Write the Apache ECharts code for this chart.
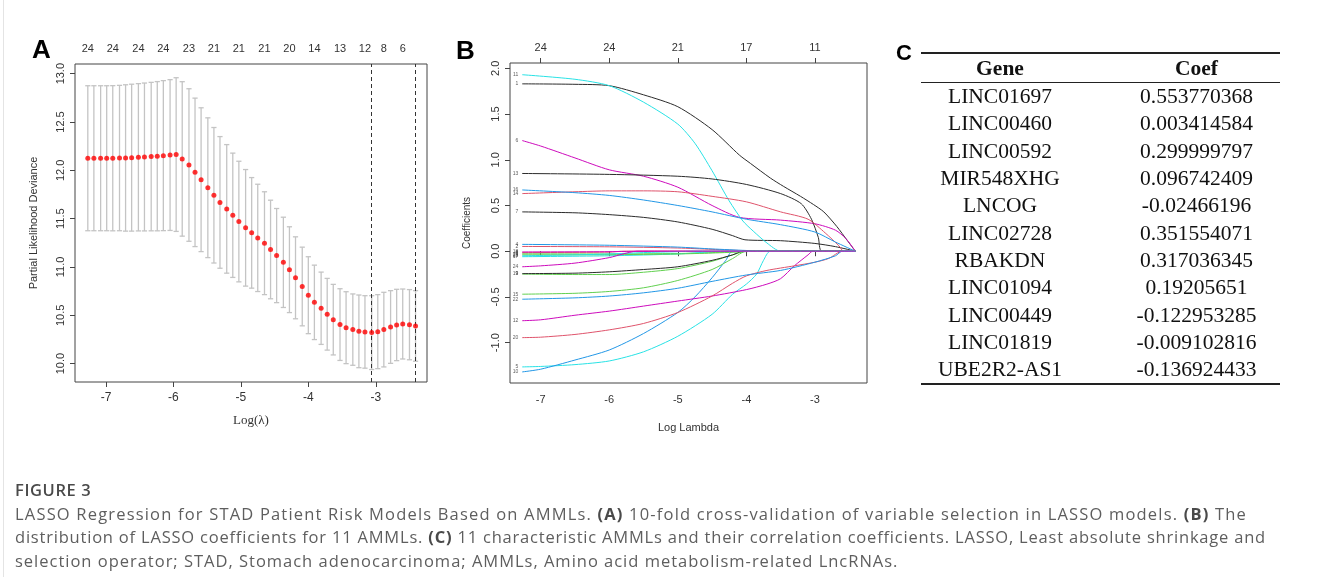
<!DOCTYPE html>
<html>
<head>
<meta charset="utf-8">
<script src="https://cdn.jsdelivr.net/npm/echarts@6/dist/echarts.min.js"></script>
<style>
  body { margin: 0; background: #fff; }
  #wrap { position: relative; width: 1319px; height: 577px; overflow: hidden; }
  #chart { position: absolute; left: 0; top: 0; width: 1319px; height: 577px; }
  #frame { position: absolute; left: 3px; top: 0; width: 1px; height: 577px; background: #e4e4e4; }
  #tbl { position: absolute; left: 921px; top: 52px; width: 359px; border-collapse: collapse;
         font-family: "Liberation Serif", "Times New Roman", serif; font-size: 21.5px; color: #111; }
  #tbl th, #tbl td { padding: 0; text-align: center; line-height: 27px; height: 27.3px; }
  #tbl thead tr { border-top: 2px solid #222; border-bottom: 1.5px solid #222; }
  #tbl thead th { height: 28px; font-weight: bold; }
  #tbl tbody tr:last-child { border-bottom: 2px solid #222; }
  #tbl .c1 { width: 158px; }
  #tbl .c2 { padding-left: 34px; }
  #cap { position: absolute; left: 15px; top: 478px; font-family: "Open Sans", "Liberation Sans", sans-serif;
         font-size: 16.5px; color: #5e5e5e; line-height: 23.5px; white-space: nowrap; }
  #cap div { display: block; }
  #cap .fig { color: #4a4a4a; font-weight: 600; letter-spacing: 0.6px; }
  #cap b { font-weight: 700; color: #4a4a4a; }
</style>
</head>
<body>
<div id="wrap">
  <div id="frame"></div>
  <div id="chart"></div>
  <table id="tbl"></table>
  <div id="cap">
    <div class="fig">FIGURE 3</div>
    <div class="ln"><span>LASSO Regression for STAD Patient Risk Models Based on AMMLs. <b>(A)</b> 10-fold cross-validation of variable selection in LASSO models. <b>(B)</b> The</span></div>
    <div class="ln"><span>distribution of LASSO coefficients for 11 AMMLs. <b>(C)</b> 11 characteristic AMMLs and their correlation coefficients. LASSO, Least absolute shrinkage and</span></div>
    <div class="ln"><span>selection operator; STAD, Stomach adenocarcinoma; AMMLs, Amino acid metabolism-related LncRNAs.</span></div>
  </div>
</div>
<script>
// ---- panel A: cross-validation curve ----
const logLambda = [-7.27, -7.18, -7.08, -6.99, -6.90, -6.80, -6.71, -6.62, -6.52, -6.43,
  -6.33, -6.24, -6.15, -6.05, -5.96, -5.87, -5.77, -5.68, -5.59, -5.49,
  -5.40, -5.31, -5.21, -5.12, -5.03, -4.93, -4.84, -4.75, -4.65, -4.56,
  -4.47, -4.37, -4.28, -4.19, -4.09, -4.00, -3.91, -3.81, -3.72, -3.63,
  -3.53, -3.44, -3.34, -3.25, -3.16, -3.06, -2.97, -2.88, -2.78, -2.69,
  -2.60, -2.50, -2.41];
const cvMean = [12.125, 12.125, 12.125, 12.125, 12.125, 12.127, 12.128, 12.131, 12.135, 12.138,
  12.142, 12.146, 12.152, 12.158, 12.163, 12.118, 12.055, 11.979, 11.903, 11.820,
  11.742, 11.668, 11.601, 11.535, 11.470, 11.405, 11.353, 11.301, 11.246, 11.181,
  11.118, 11.048, 10.972, 10.888, 10.798, 10.708, 10.634, 10.573, 10.511, 10.455,
  10.404, 10.372, 10.352, 10.334, 10.328, 10.321, 10.331, 10.352, 10.379, 10.400,
  10.410, 10.403, 10.390];
const cvLower = [11.375, 11.375, 11.375, 11.375, 11.374, 11.375, 11.371, 11.371, 11.373, 11.373,
  11.374, 11.374, 11.376, 11.378, 11.368, 11.319, 11.266, 11.211, 11.159, 11.097,
  11.041, 10.987, 10.936, 10.892, 10.846, 10.802, 10.781, 10.746, 10.714, 10.671,
  10.631, 10.581, 10.528, 10.464, 10.391, 10.310, 10.249, 10.199, 10.140, 10.090,
  10.033, 10.000, 9.983, 9.958, 9.953, 9.939, 9.948, 9.966, 10.003, 10.031,
  10.048, 10.040, 10.025];
const cvUpper = [12.875, 12.875, 12.875, 12.875, 12.876, 12.879, 12.885, 12.891, 12.897, 12.903,
  12.910, 12.918, 12.928, 12.938, 12.958, 12.917, 12.844, 12.747, 12.647, 12.543,
  12.443, 12.349, 12.266, 12.178, 12.094, 12.008, 11.925, 11.856, 11.778, 11.691,
  11.605, 11.515, 11.416, 11.312, 11.205, 11.106, 11.019, 10.947, 10.882, 10.820,
  10.775, 10.744, 10.721, 10.710, 10.703, 10.703, 10.714, 10.738, 10.755, 10.769,
  10.772, 10.766, 10.755];
const lambdaLines = [-3.06, -2.41];   // lambda.min, lambda.1se
const topTickA = [-7.27, -6.90, -6.52, -6.15, -5.77, -5.40, -5.03, -4.65, -4.28, -3.91, -3.53, -3.16, -2.88, -2.60];
const topCountA = ['24', '24', '24', '24', '23', '21', '21', '21', '20', '14', '13', '12', '8', '6'];
const xTicks = [-7, -6, -5, -4, -3];
const yTicksA = [10, 10.5, 11, 11.5, 12, 12.5, 13];

// ---- panel B: coefficient paths, [logLambda, coef] ----
const yTicksB = [-1, -0.5, 0, 0.5, 1, 1.5, 2];
const topCountB = ['24', '24', '21', '17', '11'];
const path01 = [[-7.27,1.83],[-6.5,1.825],[-6,1.81],[-5.5,1.71],[-5,1.58],[-4.5,1.33],[-4.1,1.05],[-3.94,0.96],[-3.65,0.80],[-3.46,0.71],[-3.21,0.60],[-3.02,0.51],[-2.87,0.43],[-2.68,0.27],[-2.53,0.12],[-2.41,0]];
const path02 = [[-7.27,0.052],[-6,0.048],[-5,0.035],[-4.5,0.02],[-4,0.005],[-3.8,0],[-2.41,0]];
const path03 = [[-7.27,-0.028],[-6,-0.03],[-5,-0.025],[-4.5,-0.015],[-4,0],[-2.41,0]];
const path04 = [[-7.27,0.075],[-6,0.065],[-5,0.045],[-4.5,0.025],[-4,0.008],[-3.7,0],[-2.41,0]];
const path05 = [[-7.27,-1.265],[-7,-1.26],[-6.5,-1.24],[-6,-1.2],[-5.5,-1.1],[-5,-0.93],[-4.5,-0.69],[-4.2,-0.47],[-4.0,-0.36],[-3.85,-0.25],[-3.75,-0.1],[-3.65,0],[-2.41,0]];
const path06 = [[-7.27,1.21],[-7,1.15],[-6.5,1.02],[-6,0.89],[-5.5,0.82],[-5,0.70],[-4.5,0.50],[-4.1,0.37],[-3.5,0.34],[-3.0,0.30],[-2.7,0.23],[-2.55,0.14],[-2.41,0]];
const path07 = [[-7.27,0.43],[-6.5,0.42],[-6,0.40],[-5.5,0.37],[-5,0.32],[-4.5,0.24],[-4.2,0.17],[-4.02,0.125],[-3.5,0.115],[-3,0.085],[-2.7,0.05],[-2.41,0]];
const path08 = [[-7.27,-0.015],[-6,-0.01],[-5.8,0],[-2.41,0]];
const path09 = [[-7.27,-0.25],[-6.5,-0.255],[-6,-0.255],[-5.5,-0.23],[-5,-0.19],[-4.5,-0.11],[-4.2,-0.04],[-4.0,0],[-2.41,0]];
const path10 = [[-7.27,-1.32],[-7,-1.29],[-6.5,-1.19],[-6,-1.08],[-5.5,-0.9],[-5,-0.67],[-4.75,-0.5],[-4.5,-0.29],[-4.3,-0.1],[-4.2,0],[-2.41,0]];
const path11 = [[-7.27,1.93],[-6.5,1.88],[-6,1.81],[-5.5,1.63],[-5,1.39],[-4.75,1.18],[-4.5,0.88],[-4.25,0.55],[-4.05,0.33],[-3.9,0.22],[-3.7,0.09],[-3.5,0],[-2.41,0]];
const path12 = [[-7.27,-0.76],[-7,-0.75],[-6.5,-0.70],[-6,-0.655],[-5.5,-0.6],[-5,-0.545],[-4.5,-0.49],[-4,-0.42],[-3.7,-0.36],[-3.5,-0.3],[-3.3,-0.16],[-3.1,-0.04],[-3.03,0],[-2.41,0]];
const path13 = [[-7.27,0.85],[-6,0.84],[-5,0.82],[-4.5,0.79],[-4,0.73],[-3.5,0.63],[-3.2,0.52],[-3.05,0.35],[-2.95,0.15],[-2.9,0],[-2.41,0]];
const path14 = [[-7.27,0.63],[-6.5,0.65],[-6,0.66],[-5.5,0.66],[-5,0.65],[-4.5,0.60],[-4,0.54],[-3.5,0.43],[-3.1,0.35],[-2.85,0.2],[-2.65,0.06],[-2.58,0],[-2.41,0]];
const path15 = [[-7.27,-0.47],[-6.5,-0.46],[-6,-0.44],[-5.5,-0.40],[-5,-0.32],[-4.5,-0.2],[-4.2,-0.08],[-4.0,0],[-2.41,0]];
const path16 = [[-7.27,0.67],[-6.5,0.64],[-6,0.61],[-5.5,0.56],[-5,0.50],[-4.5,0.43],[-4,0.35],[-3.5,0.29],[-3,0.21],[-2.7,0.10],[-2.41,0]];
const path17 = [[-7.27,-0.06],[-6,-0.05],[-5,-0.03],[-4.3,0],[-2.41,0]];
const path18 = [[-7.27,-0.008],[-6,-0.005],[-5.5,0],[-2.41,0]];
const path19 = [[-7.27,-0.245],[-6.5,-0.24],[-6,-0.225],[-5.5,-0.2],[-5,-0.17],[-4.5,-0.1],[-4.2,-0.04],[-4.05,0],[-2.41,0]];
const path20 = [[-7.27,-0.945],[-7,-0.94],[-6.5,-0.91],[-6,-0.86],[-5.5,-0.79],[-5,-0.67],[-4.5,-0.49],[-4.2,-0.35],[-4,-0.27],[-3.7,-0.21],[-3.3,-0.16],[-3,-0.12],[-2.8,-0.08],[-2.6,0],[-2.41,0]];
const path21 = [[-7.27,-0.04],[-6,-0.038],[-5,-0.03],[-4.5,-0.02],[-4,-0.005],[-3.9,0],[-2.41,0]];
const path22 = [[-7.27,-0.525],[-6.5,-0.51],[-6,-0.49],[-5.5,-0.455],[-5,-0.405],[-4.5,-0.33],[-4,-0.26],[-3.5,-0.21],[-3,-0.12],[-2.7,-0.05],[-2.6,0],[-2.41,0]];
const path23 = [[-7.27,-0.05],[-6.5,-0.04],[-6,-0.03],[-5.5,-0.015],[-5,-0.005],[-4.8,0],[-2.41,0]];
const path24 = [[-7.27,-0.17],[-7,-0.16],[-6.5,-0.13],[-6,-0.07],[-5.8,-0.03],[-5.6,0],[-2.41,0]];
const paths = [path01, path02, path03, path04, path05, path06, path07, path08, path09, path10, path11, path12,
  path13, path14, path15, path16, path17, path18, path19, path20, path21, path22, path23, path24];
const pathColors = ['#2b2b2b', '#DF536B', '#61D04F', '#2297E6', '#28E2E5', '#CD0BBC'];

// ---- panel C: table ----
const genes = ['LINC01697', 'LINC00460', 'LINC00592', 'MIR548XHG', 'LNCOG', 'LINC02728',
  'RBAKDN', 'LINC01094', 'LINC00449', 'LINC01819', 'UBE2R2-AS1'];
const coefs = ['0.553770368', '0.003414584', '0.299999797', '0.096742409', '-0.02466196', '0.351554071',
  '0.317036345', '0.19205651', '-0.122953285', '-0.009102816', '-0.136924433'];

// build table
let html = '<thead><tr><th class="c1">Gene</th><th class="c2">Coef</th></tr></thead><tbody>';
genes.forEach((g, i) => { html += '<tr><td class="c1">' + g + '</td><td class="c2">' + coefs[i] + '</td></tr>'; });
document.getElementById('tbl').innerHTML = html + '</tbody>';

// widen caption lines so each ends about where the reference line ends
(function fitCaption() {
  const spans = document.querySelectorAll('#cap .ln span');
  const targets = [1232, 1251];
  const ls = [];
  targets.forEach((t, i) => {
    const w = spans[i].getBoundingClientRect().width;
    ls[i] = (t - w) / spans[i].textContent.length;
    spans[i].style.letterSpacing = ls[i].toFixed(3) + 'px';
  });
  spans[2].style.letterSpacing = ((ls[0] + ls[1]) / 2).toFixed(3) + 'px';
})();

const axisCol = '#444';
const tickFont = { fontFamily: 'Liberation Sans, Arial, sans-serif', color: '#333' };

function nearestLabel(v, xs, labels) {
  let best = 0;
  xs.forEach((x, i) => { if (Math.abs(x - v) < Math.abs(xs[best] - v)) best = i; });
  return labels[best];
}

const chart = echarts.init(document.getElementById('chart'));

const lineSeries = paths.map((p, i) => ({
  name: 'V' + (i + 1),
  type: 'line',
  xAxisIndex: 2,
  yAxisIndex: 1,
  data: p,
  showSymbol: false,
  smooth: 0.25,
  silent: true,
  lineStyle: { width: 1, color: pathColors[i % 6] },
  z: 2 + i * 0.01
}));

const option = {
  animation: false,
  title: [
    { text: 'A', left: 27, top: 33, textStyle: { fontSize: 26, fontWeight: 'bold', color: '#000', fontFamily: 'Liberation Sans, Arial' } },
    { text: 'B', left: 451, top: 34, textStyle: { fontSize: 26, fontWeight: 'bold', color: '#000', fontFamily: 'Liberation Sans, Arial' } },
    { text: 'C', left: 891, top: 38, textStyle: { fontSize: 22, fontWeight: 'bold', color: '#000', fontFamily: 'Liberation Sans, Arial' } }
  ],
  grid: [
    { left: 75, right: 892, top: 64, bottom: 195, show: true, borderColor: axisCol, borderWidth: 1, backgroundColor: 'transparent' },
    { left: 510, right: 452, top: 63, bottom: 194, show: true, borderColor: axisCol, borderWidth: 1, backgroundColor: 'transparent' }
  ],
  xAxis: [
    {
      gridIndex: 0, type: 'value', min: -7.46, max: -2.24,
      name: 'Log(λ)', nameLocation: 'middle', nameGap: 32,
      nameTextStyle: { fontFamily: 'Liberation Serif, Times New Roman, serif', fontSize: 13, color: '#333' },
      axisLine: { show: false }, splitLine: { show: false },
      axisTick: { show: true, length: 5, customValues: xTicks, lineStyle: { color: axisCol } },
      axisLabel: Object.assign({ customValues: xTicks, fontSize: 12, margin: 10 }, tickFont)
    },
    {
      gridIndex: 0, type: 'value', position: 'top', min: -7.46, max: -2.24,
      axisLine: { show: false }, splitLine: { show: false }, axisTick: { show: false },
      axisLabel: Object.assign({ customValues: topTickA, fontSize: 11, margin: 10,
        formatter: v => nearestLabel(v, topTickA, topCountA) }, tickFont)
    },
    {
      gridIndex: 1, type: 'value', min: -7.448, max: -2.24,
      name: 'Log Lambda', nameLocation: 'middle', nameGap: 39,
      nameTextStyle: Object.assign({ fontSize: 11 }, tickFont),
      axisLine: { show: false }, splitLine: { show: false },
      axisTick: { show: true, length: 5, customValues: xTicks, lineStyle: { color: axisCol } },
      axisLabel: Object.assign({ customValues: xTicks, fontSize: 11, margin: 11 }, tickFont)
    },
    {
      gridIndex: 1, type: 'value', position: 'top', min: -7.448, max: -2.24,
      axisLine: { show: false }, splitLine: { show: false },
      axisTick: { show: true, length: 5, customValues: xTicks, lineStyle: { color: axisCol } },
      axisLabel: Object.assign({ customValues: xTicks, fontSize: 11, margin: 10,
        formatter: v => nearestLabel(v, xTicks, topCountB) }, tickFont)
    }
  ],
  yAxis: [
    {
      gridIndex: 0, type: 'value', min: 9.81, max: 13.10,
      name: 'Partial Likelihood Deviance', nameLocation: 'middle', nameGap: 36, nameRotate: 90,
      nameTextStyle: Object.assign({ fontSize: 11 }, tickFont),
      axisLine: { show: false }, splitLine: { show: false },
      axisTick: { show: true, length: 5, customValues: yTicksA, lineStyle: { color: axisCol } },
      axisLabel: Object.assign({ customValues: yTicksA, fontSize: 11, rotate: 90, margin: 9,
        formatter: v => v.toFixed(1) }, tickFont)
    },
    {
      gridIndex: 1, type: 'value', min: -1.441, max: 2.058,
      name: 'Coefficients', nameLocation: 'middle', nameGap: 38, nameRotate: 90,
      nameTextStyle: Object.assign({ fontSize: 10 }, tickFont),
      axisLine: { show: false }, splitLine: { show: false },
      axisTick: { show: true, length: 5, customValues: yTicksB, lineStyle: { color: axisCol } },
      axisLabel: Object.assign({ customValues: yTicksB, fontSize: 11, rotate: 90, margin: 9,
        formatter: v => v.toFixed(1) }, tickFont)
    }
  ],
  series: [
    {
      type: 'custom',
      xAxisIndex: 0, yAxisIndex: 0,
      silent: true,
      data: logLambda.map((x, i) => [x, cvLower[i], cvUpper[i]]),
      encode: { x: 0, y: [1, 2] },
      renderItem: function (params, api) {
        const lo = api.coord([api.value(0), api.value(1)]);
        const hi = api.coord([api.value(0), api.value(2)]);
        const w = 2.6;
        const st = { stroke: '#c4c4c4', lineWidth: 1.3 };
        return {
          type: 'group',
          children: [
            { type: 'line', shape: { x1: lo[0], y1: lo[1], x2: hi[0], y2: hi[1] }, style: st },
            { type: 'line', shape: { x1: lo[0] - w, y1: lo[1], x2: lo[0] + w, y2: lo[1] }, style: st },
            { type: 'line', shape: { x1: hi[0] - w, y1: hi[1], x2: hi[0] + w, y2: hi[1] }, style: st }
          ]
        };
      }
    },
    {
      type: 'scatter',
      xAxisIndex: 0, yAxisIndex: 0,
      silent: true,
      data: logLambda.map((x, i) => [x, cvMean[i]]),
      symbolSize: 5,
      itemStyle: { color: '#ff0000' },
      z: 5,
      markLine: {
        silent: true, symbol: 'none', label: { show: false },
        lineStyle: { color: '#333', type: [4, 3], width: 1 },
        data: lambdaLines.map(v => ({ xAxis: v }))
      }
    },
    ...lineSeries,
    {
      type: 'scatter',
      xAxisIndex: 2, yAxisIndex: 1,
      silent: true,
      symbolSize: 0,
      data: paths.map((p, i) => ({ value: p[0], name: String(i + 1) })),
      label: { show: true, position: 'left', distance: 4, formatter: '{b}', fontSize: 5, color: '#333', fontFamily: 'Liberation Sans, Arial' }
    }
  ]
};

chart.setOption(option);
</script>
</body>
</html>
